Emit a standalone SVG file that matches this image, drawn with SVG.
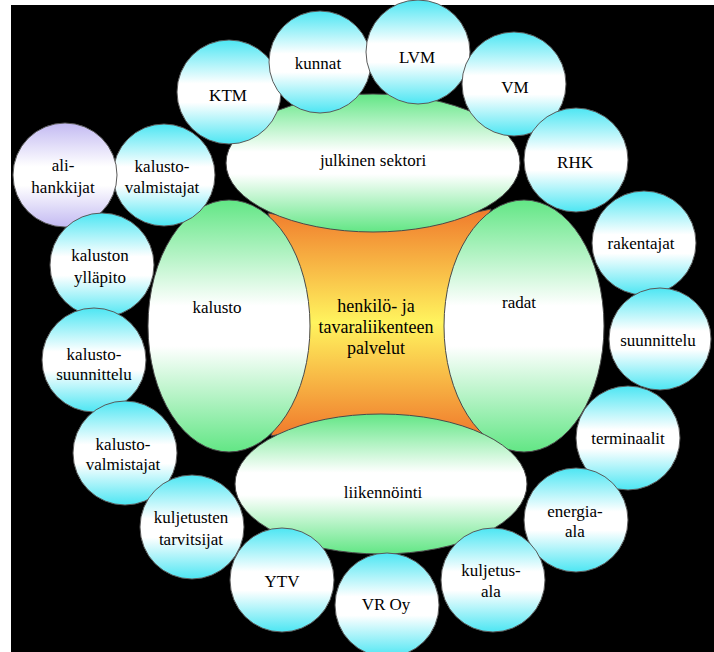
<svg xmlns="http://www.w3.org/2000/svg" width="714" height="652" viewBox="0 0 714 652">
<defs>
<linearGradient id="gCyan" x1="0" y1="0" x2="0" y2="1">
<stop offset="0" stop-color="#4de6f3"/>
<stop offset="0.42" stop-color="#ffffff"/>
<stop offset="0.6" stop-color="#ffffff"/>
<stop offset="1" stop-color="#4de6f3"/>
</linearGradient>
<linearGradient id="gLav" x1="0" y1="0" x2="0" y2="1">
<stop offset="0" stop-color="#c3baf2"/>
<stop offset="0.42" stop-color="#ffffff"/>
<stop offset="0.6" stop-color="#ffffff"/>
<stop offset="1" stop-color="#c3baf2"/>
</linearGradient>
<linearGradient id="gGreen" x1="0" y1="0" x2="0" y2="1">
<stop offset="0" stop-color="#62e685"/>
<stop offset="0.42" stop-color="#ffffff"/>
<stop offset="0.58" stop-color="#ffffff"/>
<stop offset="1" stop-color="#62e685"/>
</linearGradient>
<linearGradient id="gOrange" x1="0" y1="0" x2="0" y2="1">
<stop offset="0" stop-color="#f07a2c"/>
<stop offset="0.5" stop-color="#fff45e"/>
<stop offset="1" stop-color="#f07a2c"/>
</linearGradient>
</defs>
<style>
.c{fill:url(#gCyan);stroke:#5a5a5a;stroke-width:1}
.l{fill:url(#gLav);stroke:#5a5a5a;stroke-width:1}
.e{fill:url(#gGreen);stroke:#4a4a4a;stroke-width:1}
.o{fill:url(#gOrange);stroke:#4a4a4a;stroke-width:1}
text{font-family:"Liberation Serif","DejaVu Serif","Times New Roman",Times,serif;font-size:17px;fill:#000;text-anchor:middle}
.big{font-size:18px}
</style>
<rect x="11" y="5" width="703" height="647" fill="#000"/>
<g id="connectors"/>
<g id="palvelut">
<path class="o" d="M268,213 Q378,236 491,209 Q444,322 486,435 Q378,412 271,436 Q313,322 268,213 Z"/>
<text class="big" x="376" y="312">henkilö- ja</text>
<text class="big" x="376" y="333">tavaraliikenteen</text>
<text class="big" x="376" y="354">palvelut</text>
</g>
<g id="kalusto">
<ellipse class="e" cx="229" cy="326" rx="81" ry="126"/>
<text x="217" y="313">kalusto</text>
</g>
<g id="radat">
<ellipse class="e" cx="524" cy="326" rx="80" ry="126"/>
<text x="519" y="308">radat</text>
</g>
<g id="julkinen">
<ellipse class="e" cx="373" cy="163" rx="147" ry="69"/>
<text x="373" y="166">julkinen sektori</text>
</g>
<g id="liikennointi">
<ellipse class="e" cx="381" cy="484" rx="146" ry="70"/>
<text x="383" y="498">liikennöinti</text>
</g>
<g id="kalustovalmistajat1">
<circle class="c" cx="164" cy="175" r="51"/>
<text x="162" y="172">kalusto-</text>
<text x="162" y="193">valmistajat</text>
</g>
<g id="alihankkijat">
<circle class="l" cx="65" cy="175" r="52"/>
<text x="63" y="171">ali-</text>
<text x="63" y="193">hankkijat</text>
</g>
<g id="kalustonyllapito">
<circle class="c" cx="102" cy="265" r="52"/>
<text x="100" y="261">kaluston</text>
<text x="100" y="283">ylläpito</text>
</g>
<g id="kalustosuunnittelu">
<circle class="c" cx="94" cy="360" r="52"/>
<text x="94" y="360">kalusto-</text>
<text x="94" y="380">suunnittelu</text>
</g>
<g id="kalustovalmistajat2">
<circle class="c" cx="125" cy="453" r="52"/>
<text x="123" y="450">kalusto-</text>
<text x="123" y="470">valmistajat</text>
</g>
<g id="kuljetustentarvitsijat">
<circle class="c" cx="192" cy="527" r="52"/>
<text x="191" y="523">kuljetusten</text>
<text x="191" y="545">tarvitsijat</text>
</g>
<g id="ytv">
<circle class="c" cx="282" cy="580" r="52"/>
<text x="282" y="587">YTV</text>
</g>
<g id="ktm">
<circle class="c" cx="229" cy="92" r="52"/>
<text x="228" y="101">KTM</text>
</g>
<g id="kunnat">
<circle class="c" cx="320" cy="62" r="51"/>
<text x="318" y="69">kunnat</text>
</g>
<g id="lvm">
<circle class="c" cx="418" cy="52" r="52"/>
<text x="417" y="63">LVM</text>
</g>
<g id="vm">
<circle class="c" cx="514" cy="84" r="52"/>
<text x="515" y="93">VM</text>
</g>
<g id="rhk">
<circle class="c" cx="576" cy="160" r="52"/>
<text x="575" y="168">RHK</text>
</g>
<g id="rakentajat">
<circle class="c" cx="644" cy="243" r="52"/>
<text x="641" y="249">rakentajat</text>
</g>
<g id="suunnittelu">
<circle class="c" cx="660" cy="339" r="51"/>
<text x="658" y="346">suunnittelu</text>
</g>
<g id="terminaalit">
<circle class="c" cx="628" cy="438" r="52"/>
<text x="628" y="444">terminaalit</text>
</g>
<g id="energiaala">
<circle class="c" cx="576" cy="520" r="52"/>
<text x="575" y="517">energia-</text>
<text x="575" y="537">ala</text>
</g>
<g id="kuljetusala">
<circle class="c" cx="493" cy="580" r="52"/>
<text x="491" y="576">kuljetus-</text>
<text x="491" y="597">ala</text>
</g>
<g id="vroy">
<circle class="c" cx="387" cy="605" r="52"/>
<text x="386" y="610">VR Oy</text>
</g>
</svg>
